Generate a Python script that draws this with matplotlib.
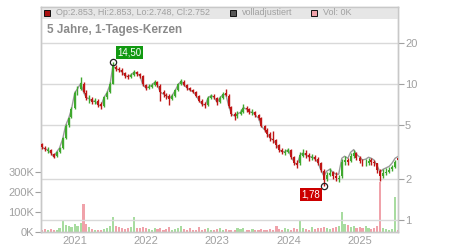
import matplotlib
matplotlib.use('Agg')
import matplotlib.pyplot as plt
import matplotlib.dates as mdates
import numpy as np
import pandas as pd
from matplotlib.patches import Rectangle

plt.rcParams['font.family'] = ['Liberation Sans', 'DejaVu Sans']

# ---- data (semi-monthly candles) ----
dates = pd.date_range('2020-07-15', periods=121, freq='SMS')

closes = [3.44, 3.33, 3.28, 3.10, 2.91, 3.17, 3.38, 3.98, 4.93, 5.60,
          6.50, 8.60, 9.20, 10.1, 8.70, 7.90, 7.80, 7.40, 7.50, 7.00,
          6.90, 8.00, 8.60, 9.90, 13.5, 12.9, 12.7, 12.2, 11.5, 11.3,
          11.6, 12.2, 11.9, 11.5, 9.90, 9.30, 9.50, 9.80, 10.3, 9.80,
          8.70, 8.40, 8.20, 7.80, 8.20, 9.00, 9.90, 10.5, 9.80, 9.30,
          9.00, 8.70, 8.20, 7.50, 7.10, 7.00, 7.90, 8.20, 8.00, 7.30,
          7.90, 8.40, 8.30, 6.90, 6.00, 5.80, 6.00, 6.20, 6.70, 6.50,
          6.20, 6.20, 5.90, 5.60, 4.90, 4.60, 4.30, 3.97, 3.88, 3.57,
          3.28, 3.17, 3.17, 3.28, 2.91, 2.64, 2.55, 3.00, 3.10, 3.00,
          2.91, 2.91, 2.82, 2.64, 2.34, 1.98, 2.15, 2.23, 2.12, 2.05,
          2.05, 2.68, 2.77, 2.68, 2.96, 3.10, 2.87, 2.73, 2.60, 2.64,
          2.73, 2.68, 2.60, 2.34, 2.12, 2.23, 2.27, 2.34, 2.46, 2.68,
          2.752]
opens = [3.60, 3.40, 3.20, 3.25, 3.05, 2.95, 3.15, 3.40, 4.00, 5.00,
         5.70, 6.60, 8.50, 9.20, 10.0, 8.60, 7.70, 7.80, 7.30, 7.50,
         7.10, 6.90, 8.00, 8.70, 10.0, 13.4, 12.9, 12.6, 12.1, 11.5,
         11.2, 11.6, 12.2, 11.9, 11.4, 9.80, 9.30, 9.50, 9.80, 10.3,
         9.70, 8.70, 8.30, 8.20, 7.80, 8.20, 9.00, 9.90, 10.4, 9.80,
         9.30, 9.00, 8.70, 8.20, 7.50, 7.10, 7.00, 7.90, 8.20, 7.90,
         7.30, 7.90, 8.50, 8.20, 6.80, 6.00, 5.80, 6.00, 6.20, 6.70,
         6.50, 6.10, 6.20, 5.90, 5.60, 4.90, 4.60, 4.30, 3.95, 3.90,
         3.55, 3.28, 3.10, 3.15, 3.25, 2.90, 2.60, 2.60, 2.95, 3.10,
         3.00, 2.85, 2.90, 2.82, 2.62, 2.30, 2.00, 2.15, 2.25, 2.12,
         2.00, 2.10, 2.65, 2.78, 2.70, 2.95, 3.10, 2.85, 2.75, 2.60,
         2.62, 2.75, 2.68, 2.60, 2.30, 2.10, 2.22, 2.27, 2.35, 2.45,
         2.853]
highs = [3.70, 3.52, 3.42, 3.32, 3.12, 3.22, 3.45, 4.05, 5.05, 5.75,
         6.80, 8.80, 9.60, 11.3, 10.4, 9.00, 8.30, 8.00, 7.90, 7.70,
         7.30, 8.20, 8.90, 10.3, 14.5, 13.8, 13.4, 13.0, 12.3, 11.9,
         12.0, 12.6, 12.5, 12.1, 11.6, 10.0, 9.90, 10.1, 10.6, 10.5,
         9.90, 9.00, 8.60, 8.40, 8.40, 9.20, 10.2, 10.9, 10.6, 9.90,
         9.50, 9.20, 8.90, 8.30, 7.70, 7.30, 8.10, 8.40, 8.40, 8.00,
         8.10, 8.70, 9.10, 8.40, 6.90, 6.20, 6.30, 6.50, 7.10, 6.90,
         6.70, 6.50, 6.30, 6.00, 5.70, 5.00, 4.70, 4.40, 4.50, 3.95,
         3.60, 3.40, 3.35, 3.40, 3.30, 2.95, 2.75, 3.15, 3.30, 3.25,
         3.10, 3.05, 3.00, 2.90, 2.65, 2.35, 2.25, 2.40, 2.30, 2.25,
         2.15, 2.80, 2.95, 2.85, 3.10, 3.25, 3.15, 2.95, 2.80, 2.80,
         2.85, 2.85, 2.75, 2.62, 2.35, 2.35, 2.40, 2.45, 2.55, 2.75,
         2.853]
lows = [3.35, 3.22, 3.12, 3.02, 2.85, 2.90, 3.10, 3.35, 3.95, 4.85,
        5.60, 6.50, 8.30, 9.00, 8.50, 7.60, 7.20, 7.10, 7.10, 6.80,
        6.50, 6.80, 7.80, 8.60, 9.90, 12.4, 12.2, 11.6, 11.0, 10.8,
        11.0, 11.4, 11.5, 11.0, 9.60, 9.00, 9.10, 9.30, 9.60, 9.50,
        7.50, 8.00, 7.80, 7.00, 7.60, 8.00, 8.90, 9.80, 9.60, 9.00,
        8.80, 8.50, 8.00, 7.30, 6.90, 6.70, 6.90, 7.70, 7.80, 7.00,
        7.20, 7.80, 8.10, 6.70, 5.80, 5.40, 5.60, 5.90, 6.10, 6.20,
        6.00, 5.90, 5.70, 5.40, 4.80, 4.40, 4.10, 3.80, 3.70, 3.40,
        3.15, 3.05, 3.00, 3.10, 2.80, 2.55, 2.40, 2.55, 2.90, 2.85,
        2.70, 2.75, 2.70, 2.55, 2.25, 1.78, 1.95, 2.10, 2.00, 1.95,
        1.90, 2.05, 2.55, 2.55, 2.65, 2.85, 2.75, 2.60, 2.50, 2.50,
        2.55, 2.55, 2.50, 2.20, 1.95, 2.05, 2.15, 2.20, 2.30, 2.40,
        2.748]
adj_tail = [2.10, 2.28, 2.36, 2.25, 2.17, 2.17, 2.84, 2.94, 2.84, 3.14,
            3.29, 3.04, 2.89, 2.76, 2.80, 2.89, 2.84, 2.76, 2.48, 2.25,
            2.36, 2.41, 2.48, 2.61, 2.84, 2.92]
adj_close = closes[:95] + adj_tail
volumes_k = [12, 15, 10, 14, 12, 8, 18, 60, 35, 30,
             25, 40, 30, 45, 140, 40, 25, 15, 12, 10,
             12, 15, 20, 30, 75, 30, 25, 20, 15, 18,
             25, 75, 20, 18, 25, 20, 15, 12, 20, 15,
             20, 12, 15, 25, 12, 15, 20, 30, 15, 12,
             18, 12, 10, 25, 12, 15, 20, 10, 12, 15,
             20, 12, 15, 10, 12, 10, 18, 15, 20, 12,
             10, 15, 12, 10, 15, 12, 10, 15, 12, 30,
             15, 12, 20, 15, 12, 18, 15, 55, 20, 15,
             12, 25, 15, 20, 18, 25, 20, 15, 20, 25,
             30, 100, 40, 35, 25, 30, 20, 25, 20, 30,
             20, 15, 20, 30, 250, 20, 15, 12, 15, 175,
             12]
year_ticks = ['2021', '2022', '2023', '2024', '2025']
price_ticks = [1, 2, 5, 10, 20]
vol_ticks = [0, 100, 200, 300]
high_label, low_label = '14,50', '1,78'

# ---- styling ----
GREEN = '#3fa82e'
RED = '#bf1515'
VGREEN = '#a8dca0'
VRED = '#f0a2aa'
GRID = '#d9d9d9'
TXT = '#a0a0a0'

x = mdates.date2num(dates)
o = np.array(opens); c = np.array(closes)
up = c >= o
ccol = [GREEN if u else RED for u in up]
vcol = [VGREEN if u else VRED for u in up]

fig = plt.figure(figsize=(4.5, 2.5), dpi=100)
axv = fig.add_axes([41 / 450, 18 / 250, 357 / 450, 225 / 250])
axp = axv.twinx()

# volume
axv.bar(x, np.array(volumes_k) * 1000, width=11, color=vcol, linewidth=0)
axv.set_ylim(0, 1125000)
axv.set_yticks([v * 1000 for v in vol_ticks])
axv.set_yticklabels([f'{v}K' for v in vol_ticks])
axv.tick_params(axis='y', direction='out', length=4, color=TXT,
                labelsize=8, labelcolor=TXT, pad=1)

# price
axp.set_yscale('log')
axp.set_ylim(0.816, 36.7)
xl = mdates.date2num(pd.to_datetime(['2020-07-12', '2025-07-16']))
for a in (axv, axp):
    a.set_xlim(xl[0], xl[1])
    yt = mdates.date2num(pd.to_datetime([f'{y}-01-01' for y in year_ticks]))
    a.set_xticks(yt)
axv.set_xticklabels(year_ticks)
axv.tick_params(axis='x', length=0, labelsize=8, labelcolor=TXT, pad=3)

axp.set_yticks(price_ticks)
axp.set_yticklabels([str(p) for p in price_ticks])
axp.yaxis.set_minor_locator(matplotlib.ticker.NullLocator())
axp.tick_params(axis='y', direction='out', length=4, color=TXT,
                labelsize=8, labelcolor=TXT, pad=1)

axp.set_axisbelow(True)
axp.grid(True, axis='both', which='major', color=GRID, linewidth=1)

# legend band
axp.add_patch(Rectangle((0, 0.9467), 1, 0.0533, transform=axp.transAxes,
                        facecolor='#e6e6e6', edgecolor='none', zorder=0.2))

axp.plot(x, adj_close, color='#9a9a9a', linewidth=1.0, zorder=2)
axp.vlines(x, lows, highs, colors=ccol, linewidth=1.0, zorder=3)
bottoms = np.minimum(o, c)
heights = np.maximum(np.abs(c - o), 0.01)
axp.bar(x, heights, bottom=bottoms, width=10, color=ccol, linewidth=0, zorder=3)

for a in (axv, axp):
    for s in a.spines.values():
        s.set_color('#c8c8c8')
        s.set_linewidth(1)

# high / low markers
ih = int(np.argmax(highs)); il = int(np.argmin(lows))
axp.plot([x[ih]], [highs[ih]], 'o', mfc='none', mec='#222222', ms=4.5, mew=0.9, zorder=5)
axp.plot([x[il]], [lows[il]], 'o', mfc='none', mec='#222222', ms=4.5, mew=0.9, zorder=5)
axp.annotate(high_label, (x[ih], highs[ih]), xytext=(12, 7), textcoords='offset points',
             ha='center', va='center', fontsize=7, color='white', zorder=6,
             bbox=dict(boxstyle='square,pad=0.15', fc='#119911', ec='none'))
axp.annotate(low_label, (x[il], lows[il]), xytext=(-9.5, -6.5), textcoords='offset points',
             ha='center', va='center', fontsize=7, color='white', zorder=6,
             bbox=dict(boxstyle='square,pad=0.15', fc='#cc0000', ec='none'))

# title and legend texts
axp.text((47 - 41) / 357, (232 - 30) / 225, '5 Jahre, 1-Tages-Kerzen', transform=axp.transAxes,
         fontsize=8.5, fontweight='bold', color='#8a8a8a', ha='left', va='center')
ly = (232 - 13) / 225
items = [((47 - 41) / 357, '#aa1111', 'Op:2.853, Hi:2.853, Lo:2.748, Cl:2.752'),
         ((233 - 41) / 357, '#555555', 'volladjustiert'),
         ((314 - 41) / 357, '#f0a2aa', 'Vol: 0K')]
for lx, col, txt in items:
    axp.plot([lx], [ly], 's', transform=axp.transAxes, ms=4.2, mfc=col, mec='#111111',
             mew=0.7, clip_on=False, zorder=6)
    axp.text(lx + 9 / 357, ly, txt, transform=axp.transAxes, fontsize=6.5, color=TXT,
             ha='left', va='center')

fig.savefig('out.png', dpi=100)
